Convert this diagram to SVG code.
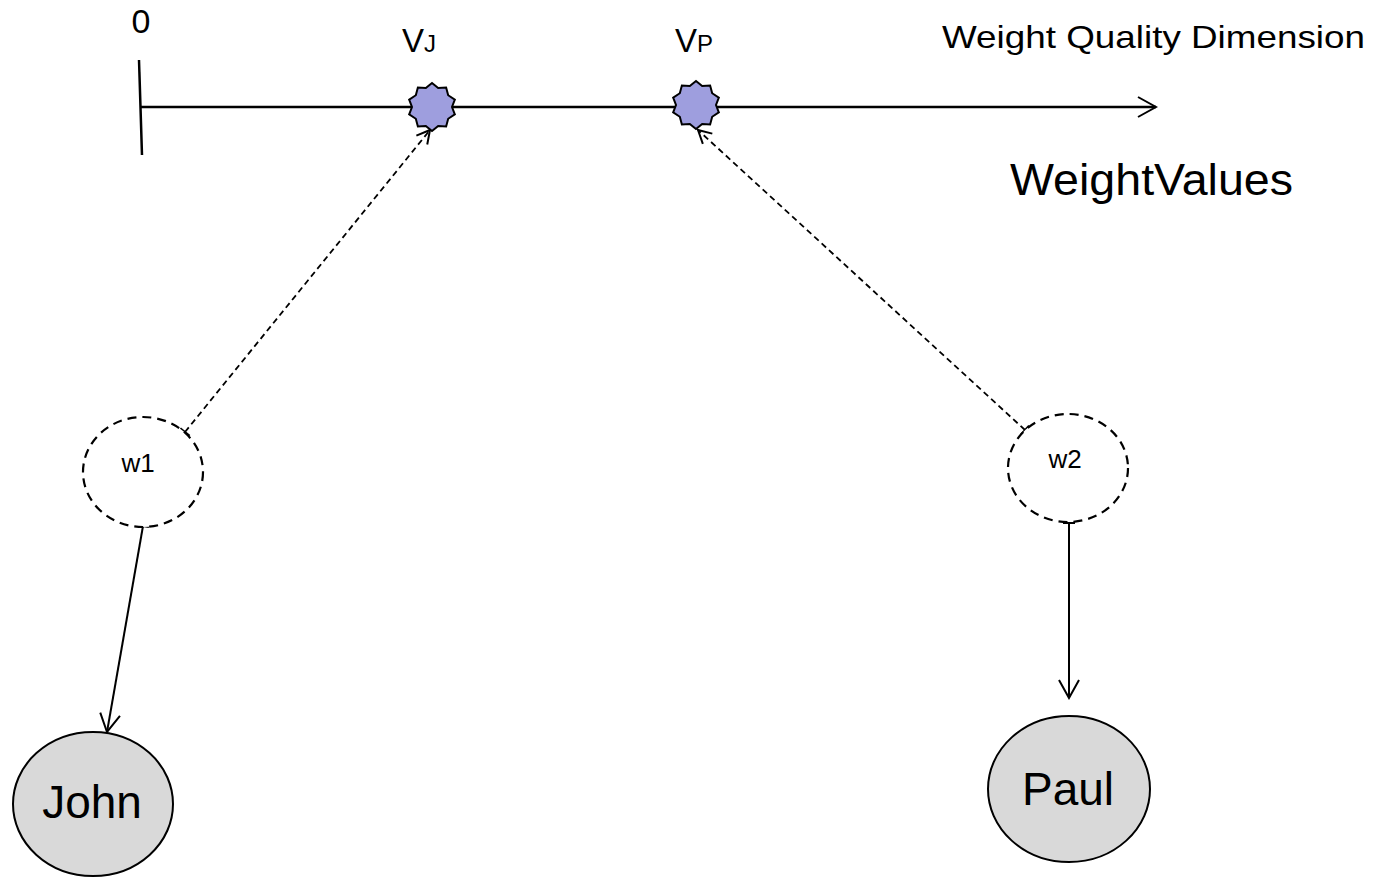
<svg xmlns="http://www.w3.org/2000/svg" xmlns:xlink="http://www.w3.org/1999/xlink" width="1380" height="877" viewBox="0 0 1380 877">
  <style>
    text { font-family: "Liberation Sans", Arial, sans-serif; fill: #000; }
    .axis { stroke: #000; stroke-width: 2.5; fill: none; }
    .link { stroke: #000; stroke-width: 2; fill: none; }
    .dashed { stroke-dasharray: 6 4; stroke-width: 1.8; }
    .wnode { fill: #fff; stroke: #000; stroke-width: 2.2; stroke-dasharray: 9 6; }
    .person { fill: #d9d9d9; stroke: #000; stroke-width: 2; }
    .value { fill: #9e9ede; stroke: #000; stroke-width: 2; stroke-linejoin: miter; }
  </style>
  <defs>
    <marker id="open-arrow" viewBox="-22 -13 24 26" markerWidth="24" markerHeight="26" markerUnits="userSpaceOnUse" refX="0" refY="0" orient="auto">
      <path d="M-18,-10 L0,0 L-18,10" fill="none" stroke="#000" stroke-width="2"/>
    </marker>
    <marker id="small-arrow" viewBox="-16 -10 18 20" markerWidth="18" markerHeight="20" markerUnits="userSpaceOnUse" refX="0" refY="0" orient="auto">
      <path d="M-13,-7 L0,0 L-13,7" fill="none" stroke="#000" stroke-width="2"/>
    </marker>
    <marker id="tee" viewBox="-2 -8 4 16" markerWidth="4" markerHeight="16" markerUnits="userSpaceOnUse" refX="0" refY="0" orient="auto">
      <path d="M0,-6 L0,6" fill="none" stroke="#000" stroke-width="2"/>
    </marker>
    <!-- ten-point star used for value markers on the axis -->
    <polygon id="star10" points="0,-24 6.18,-19.02 14.11,-19.42 16.18,-11.76 22.83,-7.42 20,0 22.83,7.42 16.18,11.76 14.11,19.42 6.18,19.02 0,24 -6.18,19.02 -14.11,19.42 -16.18,11.76 -22.83,7.42 -20,0 -22.83,-7.42 -16.18,-11.76 -14.11,-19.42 -6.18,-19.02"/>
  </defs>

  <!-- quality dimension axis -->
  <g id="axis">
    <line class="axis" x1="139" y1="60" x2="142" y2="155"/>
    <line class="axis" x1="140" y1="107" x2="1156" y2="107" marker-end="url(#open-arrow)"/>
    <text x="141" y="33" font-size="34" text-anchor="middle">0</text>
    <text x="942" y="48" font-size="32" textLength="423" lengthAdjust="spacingAndGlyphs">Weight Quality Dimension</text>
    <text x="1010" y="195" font-size="44" textLength="283" lengthAdjust="spacingAndGlyphs">WeightValues</text>
  </g>

  <!-- connectors -->
  <g id="connectors">
    <line class="link dashed" x1="185" y1="432" x2="430" y2="130" marker-start="url(#tee)" marker-end="url(#small-arrow)"/>
    <line class="link dashed" x1="1025" y1="430" x2="698" y2="130" marker-start="url(#tee)" marker-end="url(#small-arrow)"/>
    <line class="link" x1="143" y1="526" x2="107" y2="732" marker-start="url(#tee)" marker-end="url(#open-arrow)"/>
    <line class="link" x1="1069" y1="523" x2="1069" y2="698" marker-start="url(#tee)" marker-end="url(#open-arrow)"/>
  </g>

  <!-- value points -->
  <g id="vJ">
    <use xlink:href="#star10" class="value" x="432" y="107"/>
    <text x="402" y="52" font-size="33">V<tspan font-size="24">J</tspan></text>
  </g>
  <g id="vP">
    <use xlink:href="#star10" class="value" x="696" y="105"/>
    <text x="675" y="52" font-size="33">V<tspan font-size="24">P</tspan></text>
  </g>

  <!-- weight qualities -->
  <g id="w1">
    <ellipse class="wnode" cx="143" cy="472" rx="60" ry="55"/>
    <text x="138" y="472" font-size="26" text-anchor="middle">w1</text>
  </g>
  <g id="w2">
    <ellipse class="wnode" cx="1068" cy="468" rx="60" ry="54"/>
    <text x="1065" y="468" font-size="26" text-anchor="middle">w2</text>
  </g>

  <!-- persons -->
  <g id="john">
    <ellipse class="person" cx="93" cy="804" rx="80" ry="72"/>
    <text x="92" y="818" font-size="46" text-anchor="middle">John</text>
  </g>
  <g id="paul">
    <ellipse class="person" cx="1069" cy="789" rx="81" ry="73"/>
    <text x="1068" y="805" font-size="46" text-anchor="middle">Paul</text>
  </g>
</svg>
